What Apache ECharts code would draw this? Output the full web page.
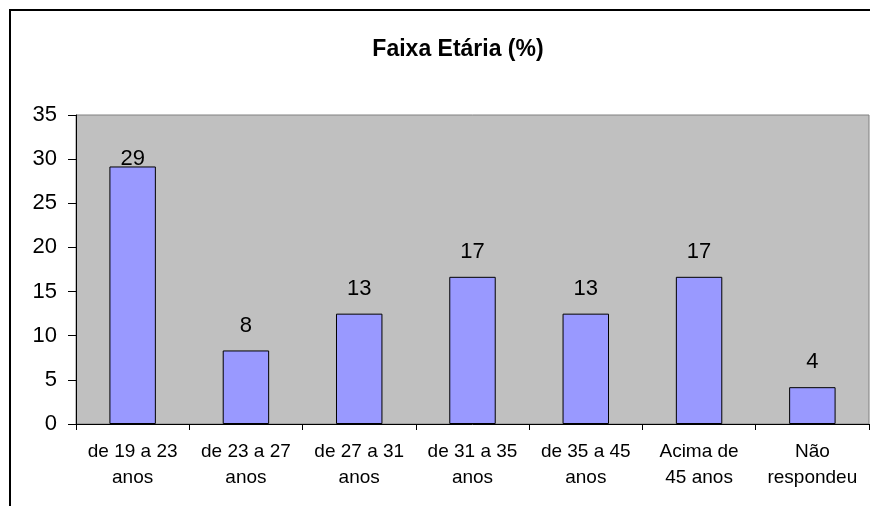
<!DOCTYPE html>
<html>
<head>
<meta charset="utf-8">
<script src="https://cdn.jsdelivr.net/npm/echarts@6/dist/echarts.min.js"></script>
<style>
  html, body { margin: 0; padding: 0; background: #fff; }
  #faixaChart { width: 870px; height: 506px; }
</style>
</head>
<body>
<div id="faixaChart"></div>
<script>
// faixa etaria dos respondentes (%)
var categorias = ['de 19 a 23\nanos', 'de 23 a 27\nanos', 'de 27 a 31\nanos', 'de 31 a 35\nanos', 'de 35 a 45\nanos', 'Acima de\n45 anos', 'Não\nrespondeu'];
var percentuais = [29.17, 8.33, 12.5, 16.67, 12.5, 16.67, 4.17];
var rotulos = ['29', '8', '13', '17', '13', '17', '4'];

var dom = document.getElementById('faixaChart');
var myChart = echarts.init(dom, null, { renderer: 'canvas' });

var fonte = '"Liberation Sans", Arial, sans-serif';

var dadosBarra = percentuais.map(function (v, i) {
  var item = { value: v };
  if (i === 0) {
    item.label = { distance: 0, offset: [0, 3] }; // excel colou o 29 na barra
  }
  return item;
});

var option = {
  animation: false,
  backgroundColor: '#ffffff',
  title: {
    text: 'Faixa Etária (%)',
    left: 453,
    top: 33,
    textAlign: 'center',
    textStyle: { fontFamily: fonte, fontWeight: 'bold', fontSize: 23, color: '#000' }
  },
  graphic: [{
    type: 'rect',
    shape: { x: 10, y: 10, width: 1000, height: 1000 },
    style: { fill: 'none', stroke: '#000', lineWidth: 2 },
    silent: true
  }],
  grid: {
    left: 76,
    right: 1,
    top: 115,
    bottom: 82,
    show: true,
    backgroundColor: '#C0C0C0',
    borderColor: '#808080',
    borderWidth: 1
  },
  xAxis: {
    type: 'category',
    data: categorias,
    axisLine: { lineStyle: { color: '#000', width: 1 } },
    axisTick: { show: true, length: 6, lineStyle: { color: '#000' } },
    axisLabel: {
      color: '#000',
      fontFamily: fonte,
      fontSize: 19,
      lineHeight: 26,
      margin: 15,
      interval: 0
    },
    splitLine: { show: false }
  },
  yAxis: {
    type: 'value',
    min: 0,
    max: 35,
    interval: 5,
    axisLine: { show: true, lineStyle: { color: '#000', width: 1 } },
    axisTick: { show: true, length: 8, lineStyle: { color: '#000' } },
    axisLabel: { color: '#000', fontFamily: fonte, fontSize: 22, margin: 19 },
    splitLine: { show: false }
  },
  series: [{
    type: 'bar',
    data: dadosBarra,
    barWidth: '41%',
    itemStyle: { color: '#9999FF', borderColor: '#000', borderWidth: 1 },
    label: {
      show: true,
      position: 'top',
      distance: 14,
      color: '#000',
      fontFamily: fonte,
      fontSize: 22,
      formatter: function (p) { return rotulos[p.dataIndex]; }
    }
  }]
};

myChart.setOption(option);
window.addEventListener('resize', myChart.resize);
</script>
</body>
</html>
